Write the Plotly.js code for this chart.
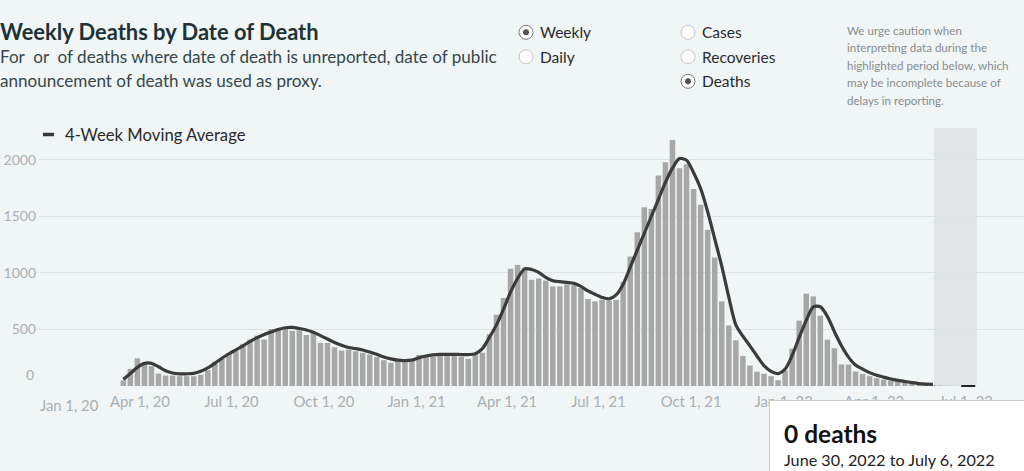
<!DOCTYPE html>
<html>
<head>
<meta charset="utf-8">
<script src="https://cdn.plot.ly/plotly-3.0.1.min.js"></script>
<style>html,body{margin:0;padding:0;background:#f0f5f6;}</style>
</head>
<body>
<div id="chart" style="width:1024px;height:471px;"></div>
<script>
// ---- data ----
const firstWeekStart = '2020-03-12';   // weeks run Thursday -> Wednesday
const weeklyDeaths = [
  48,152,245,205,175,110,93,93,87,87,
  87,99,140,216,240,293,307,372,410,445,
  410,504,510,519,487,492,451,469,381,381,
  342,313,322,307,293,278,257,228,205,219,
  228,228,275,275,257,281,278,278,257,240,
  278,295,458,630,778,1036,1070,1046,939,950,
  932,880,880,898,890,865,769,748,763,754,
  760,919,1145,1358,1580,1565,1860,1977,2174,1924,
  1960,1742,1601,1380,1136,748,534,404,266,181,
  126,108,87,51,137,331,578,816,792,622,
  410,334,190,190,128,107,87,69,57,48,
  40,28,20,15,10,6,4,2,1,0,
  0
];
const movingAverage = [
  57,110,165,200,200,170,135,115,108,108,
  112,130,160,200,245,285,320,355,395,427,
  455,478,500,515,518,508,495,475,445,415,
  385,360,340,330,318,300,280,257,240,228,
  225,230,250,265,275,280,280,280,278,278,
  285,330,430,540,680,830,950,1035,1030,1005,
  960,930,922,915,907,880,840,810,783,770,
  805,900,1050,1200,1350,1500,1650,1800,1925,2010,
  1995,1885,1745,1540,1300,1060,785,540,440,355,
  265,180,130,110,150,270,430,580,700,700,
  615,480,355,255,185,150,118,95,78,62,
  50,40,30,21,17,15
];
const selectedWeekStart = '2022-06-30';
const selectedDeaths = 0;
const yTickValues = [500, 1000, 1500, 2000];
const yTickLabels = ['500', '1000', '1500', '2000'];
const xTickValues = ['2020-01-01','2020-04-01','2020-07-01','2020-10-01','2021-01-01','2021-04-01',
                     '2021-07-01','2021-10-01','2022-01-01','2022-04-01','2022-07-01'];
const xTickLabels = ['Jan 1, 20','Apr 1, 20','Jul 1, 20','Oct 1, 20','Jan 1, 21','Apr 1, 21',
                     'Jul 1, 21','Oct 1, 21','Jan 1, 22','Apr 1, 22','Jul 1, 22'];
const cautionStart = '2022-05-30T12:00:00';
const cautionEnd = '2022-07-12T00:00:00';
const titleText = 'Weekly Deaths by Date of Death';
const subtitleLines = ['For  or  of deaths where date of death is unreported, date of public',
                       'announcement of death was used as proxy.'];
const periodOptions = ['Weekly', 'Daily'];
const measureOptions = ['Cases', 'Recoveries', 'Deaths'];
const cautionLines = ['We urge caution when', 'interpreting data during the',
  'highlighted period below, which', 'may be incomplete because of', 'delays in reporting.'];
const legendLabel = '4-Week Moving Average';
const tooltipTitle = '0 deaths';
const tooltipRange = 'June 30, 2022 to July 6, 2022';

// ---- helpers ----
const DAY = 864e5;
const start = Date.parse(firstWeekStart + 'T00:00:00Z');
function weekCenter(i){ return new Date(start + (i*7 + 3.5)*DAY).toISOString().slice(0,19); }
const barX = weeklyDeaths.map((_, i) => weekCenter(i));
const maX = movingAverage.map((_, i) => weekCenter(i));
const selX = new Date(Date.parse(selectedWeekStart + 'T00:00:00Z') + 3.5*DAY).toISOString().slice(0,19);

const L = 39, R = 1024, T = 128, B = 386;
const px = x => (x - L) / (R - L);
const py = y => (B - y) / (B - T);
const FONT = 'Lato, "Noto Sans", sans-serif';
const TICKFONT = {family:FONT, size:14.8, color:'#a7b0b1'};
const YTICKFONT = {family:FONT, size:14, color:'#a7b0b1'};

const traces = [
  { type:'bar', x: barX, y: weeklyDeaths, marker:{color:'#a7a7a7'}, hoverinfo:'skip', showlegend:false },
  { type:'scatter', mode:'lines', x: maX, y: movingAverage, line:{color:'#3b3b3b', width:3.2, shape:'spline', smoothing:0.8},
    hoverinfo:'skip', showlegend:false },
  { type:'scatter', mode:'markers', x:[selX], y:[selectedDeaths], cliponaxis:false,
    marker:{symbol:'line-ew', size:10, line:{color:'#222', width:2}}, hoverinfo:'skip', showlegend:false }
];

const shapes = [
  { type:'rect', xref:'x', yref:'paper', x0:cautionStart, x1:cautionEnd, y0:0, y1:1,
    fillcolor:'#e1e5e7', line:{width:0}, layer:'between' },
  // legend dash
  { type:'line', xref:'paper', yref:'paper', x0:px(43), x1:px(54), y0:py(134.5), y1:py(134.5),
    line:{color:'#2e3a3b', width:3.5} },
  // tooltip box
  { type:'rect', xref:'paper', yref:'paper', x0:px(769.5), x1:px(1030), y0:py(400.5), y1:py(480),
    fillcolor:'#ffffff', line:{color:'#c8cccc', width:1}, layer:'above' }
];
function radio(cx, cy, selected){
  const r = 7;
  shapes.push({ type:'circle', xref:'paper', yref:'paper', x0:px(cx-r), x1:px(cx+r), y0:py(cy+r), y1:py(cy-r),
    fillcolor:'#ffffff', line:{color: selected ? '#7a7a7a' : '#c4c4c4', width:1} });
  if (selected) shapes.push({ type:'circle', xref:'paper', yref:'paper', x0:px(cx-3), x1:px(cx+3), y0:py(cy+3), y1:py(cy-3),
    fillcolor:'#555555', line:{width:0} });
}
const annotations = [];
function txt(text, x, y, size, color, extra){
  annotations.push(Object.assign({ text, xref:'paper', yref:'paper', x:px(x), y:py(y), xanchor:'left', yanchor:'middle',
    showarrow:false, font:{family:FONT, size, color}, borderpad:0 }, extra||{}));
}
txt('<b>' + titleText + '</b>', -1, 31, 21.9, '#1d3336');
txt(subtitleLines[0], -1, 57, 17.1, '#35474a');
txt(subtitleLines[1], -1, 81, 17.1, '#35474a');
periodOptions.forEach((o, k) => { radio(526, 32.3 + k*24.5, k === 0); txt(o, 539, 32.3 + k*24.5, 15.5, '#2a2a2a'); });
measureOptions.forEach((o, k) => { radio(688, 32.3 + k*24.5, k === 2); txt(o, 701, 32.3 + k*24.5, 15.5, '#2a2a2a'); });
cautionLines.forEach((l, k) => txt(l, 846, 30 + k*17.5, 11.6, '#888d8e'));
txt(legendLabel, 64, 134.5, 16.7, '#2a2a2a');
// y-axis zero label (Tableau lifts it above the baseline)
annotations.push({ text:'0', xref:'paper', yref:'y', x:px(35), y:0, yshift:12, xanchor:'right', yanchor:'middle',
  showarrow:false, font:YTICKFONT, borderpad:0 });
// first x tick label is nudged right of its date so it stays inside the chart
annotations.push({ text:xTickLabels[0], xref:'paper', yref:'paper', x:px(69), y:py(405), xanchor:'center', yanchor:'middle',
  showarrow:false, font:TICKFONT, borderpad:0 });
txt('<b>' + tooltipTitle + '</b>', 783, 434, 24.5, '#111111');
txt(tooltipRange, 783, 459, 16.2, '#222222');

const layout = {
  width:1024, height:471,
  margin:{l:L, r:1024-R, t:T, b:471-B},
  paper_bgcolor:'#f0f5f6', plot_bgcolor:'#f0f5f6',
  bargap:0.22,
  font:{family:FONT},
  xaxis:{ type:'date', range:['2019-12-22T16:00:00','2022-08-28T00:00:00'],
    tickvals:xTickValues, ticktext:['', ...xTickLabels.slice(1)],
    showgrid:false, zeroline:false, showline:false, ticks:'',
    tickfont:TICKFONT, ticklabelstandoff:5 },
  yaxis:{ range:[0,2280], tickvals:yTickValues, ticktext:yTickLabels, showgrid:true, gridcolor:'#dde3e4', gridwidth:1,
    zeroline:false, showline:false, ticks:'', tickfont:YTICKFONT, ticklabelstandoff:2 },
  shapes, annotations,
  showlegend:false, hovermode:false
};
Plotly.newPlot('chart', traces, layout, {displayModeBar:false, staticPlot:true});
</script>
</body>
</html>
